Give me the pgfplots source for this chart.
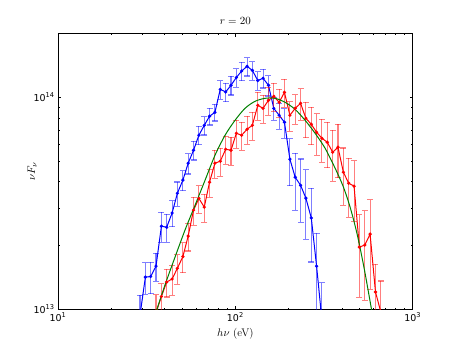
\documentclass[border=0pt]{standalone}
\usepackage{fix-cm}
\usepackage{fontspec}
\newfontfamily\dejavu{DejaVu Sans}
\usepackage{pgfplots}
\pgfplotsset{compat=1.18}
\usepackage{pgfplotstable}

\pgfplotstableread{
x y e
29.0 0.942e13 0.24
31.1 1.42e13 0.17
33.3 1.43e13 0.17
35.7 1.60e13 0.15
38.3 2.47e13 0.16
41.0 2.44e13 0.15
44.0 2.85e13 0.14
47.1 3.53e13 0.13
50.6 4.07e13 0.11
54.2 4.89e13 0.11
58.1 5.63e13 0.10
62.3 6.63e13 0.10
66.8 7.38e13 0.10
71.5 8.14e13 0.09
76.7 8.50e13 0.09
82.2 10.9e13 0.10
88.2 10.6e13 0.10
94.5 11.4e13 0.10
101.3 12.4e13 0.10
108.5 13.3e13 0.10
116.4 14.0e13 0.10
124.7 13.4e13 0.10
133.8 12.0e13 0.10
143.3 12.3e13 0.10
153.7 11.4e13 0.11
164.7 8.87e13 0.12
176.6 8.23e13 0.14
189.2 7.63e13 0.16
203.0 5.11e13 0.25
217.5 4.20e13 0.30
233.2 3.85e13 0.33
249.8 3.35e13 0.36
268.0 2.70e13 0.38
287.1 1.60e13 0.43
307.8 0.89e13 0.50
}\bluedata

\pgfplotstableread{
x y e
35.7 0.963e13 0.22
38.3 1.151e13 0.15
41.0 1.347e13 0.15
44.0 1.392e13 0.16
47.1 1.563e13 0.16
50.6 1.776e13 0.16
54.2 2.218e13 0.15
58.1 2.939e13 0.15
62.3 3.337e13 0.15
66.8 3.037e13 0.15
71.5 3.981e13 0.15
76.7 4.892e13 0.15
82.2 4.999e13 0.15
88.2 5.691e13 0.15
94.5 5.631e13 0.15
101.3 6.770e13 0.15
108.5 6.625e13 0.15
116.4 7.070e13 0.15
124.7 7.382e13 0.15
133.8 9.170e13 0.15
143.3 8.874e13 0.15
153.7 9.681e13 0.15
164.7 10.11e13 0.15
176.6 9.473e13 0.15
189.2 10.56e13 0.15
203.0 8.229e13 0.16
217.5 8.874e13 0.16
233.2 9.371e13 0.17
249.8 7.965e13 0.19
268.0 7.463e13 0.20
287.1 6.845e13 0.22
307.8 6.413e13 0.23
329.9 6.141e13 0.24
353.8 5.510e13 0.27
379.0 5.818e13 0.28
406.5 4.437e13 0.30
435.5 3.938e13 0.31
467.0 3.813e13 0.32
500.4 1.968e13 0.42
536.9 2.012e13 0.45
575.1 2.266e13 0.45
616.8 1.209e13 0.35
660.9 0.973e13 0.40
}\reddata

\pgfplotstableread{
x y
34.8 0.912e13
40.1 1.304e13
45.7 1.766e13
52.0 2.366e13
59.3 3.103e13
67.5 4.069e13
76.8 5.334e13
87.5 6.625e13
99.6 7.795e13
113.4 8.874e13
129.1 9.576e13
147.1 9.892e13
167.4 9.892e13
190.7 9.473e13
217.1 8.779e13
247.3 7.795e13
281.6 6.770e13
320.6 5.754e13
365.1 4.634e13
404.9 3.813e13
443.6 3.037e13
485.9 2.266e13
532.0 1.568e13
582.6 1.027e13
621.8 0.759e13
}\greendata

\begin{document}
\begin{tikzpicture}
\path[use as bounding box] (0,0) rectangle (458bp,345bp);
\begin{axis}[
  at={(58bp,35.5bp)}, anchor=south west,
  scale only axis, width=354.7bp, height=276bp,
  xmode=log, ymode=log,
  xmin=10, xmax=1000, ymin=1e13, ymax=2e14,
  xtick={10,100,1000},
  xticklabels={10\textsuperscript{1},10\textsuperscript{2},10\textsuperscript{3}},
  ytick={1e13,1e14},
  yticklabels={10\textsuperscript{13},10\textsuperscript{14}},
  minor xtick={20,30,40,50,60,70,80,90,200,300,400,500,600,700,800,900},
  minor ytick={2e13,3e13,4e13,5e13,6e13,7e13,8e13,9e13},
  tick align=inside,
  major tick length=3.2bp, minor tick length=1.6bp,
  tick style={line width=0.6bp, black},
  axis line style={line width=0.9bp, black},
  ticklabel style={font=\dejavu\fontsize{9.5}{11}\selectfont},
  title={$r=20$},
  title style={font=\fontsize{11}{13}\selectfont, at={(0.5,1)}, anchor=south, yshift=2bp, inner sep=1bp},
  xlabel={$h\nu$ (eV)},
  xlabel style={font=\fontsize{11}{13}\selectfont, at={(axis description cs:0.5,0)}, anchor=center, yshift=-24bp},
  ylabel={$\nu F_\nu$},
  ylabel style={font=\fontsize{11}{13}\selectfont, at={(axis description cs:-0.073,0.5)}, anchor=center, rotate=0},
]
\addplot[blue, line width=1bp, mark=*, mark size=1.1bp, mark options={solid, fill=blue, draw=blue},
  error bars/.cd, y dir=both, y explicit relative,
  error bar style={line width=1.1bp, draw=blue, draw opacity=0.5},
  error mark options={rotate=90, mark size=3bp, line width=1.1bp, draw=blue, draw opacity=0.5}]
  table[x=x, y=y, y error=e] {\bluedata};
\addplot[red, line width=1bp, mark=*, mark size=1.1bp, mark options={solid, fill=red, draw=red},
  error bars/.cd, y dir=both, y explicit relative,
  error bar style={line width=1.1bp, draw=red, draw opacity=0.5},
  error mark options={rotate=90, mark size=3bp, line width=1.1bp, draw=red, draw opacity=0.5}]
  table[x=x, y=y, y error=e] {\reddata};
\addplot[color={rgb,1:red,0;green,0.5;blue,0}, line width=1bp, smooth, no markers]
  table[x=x, y=y] {\greendata};
\end{axis}
\end{tikzpicture}
\end{document}
